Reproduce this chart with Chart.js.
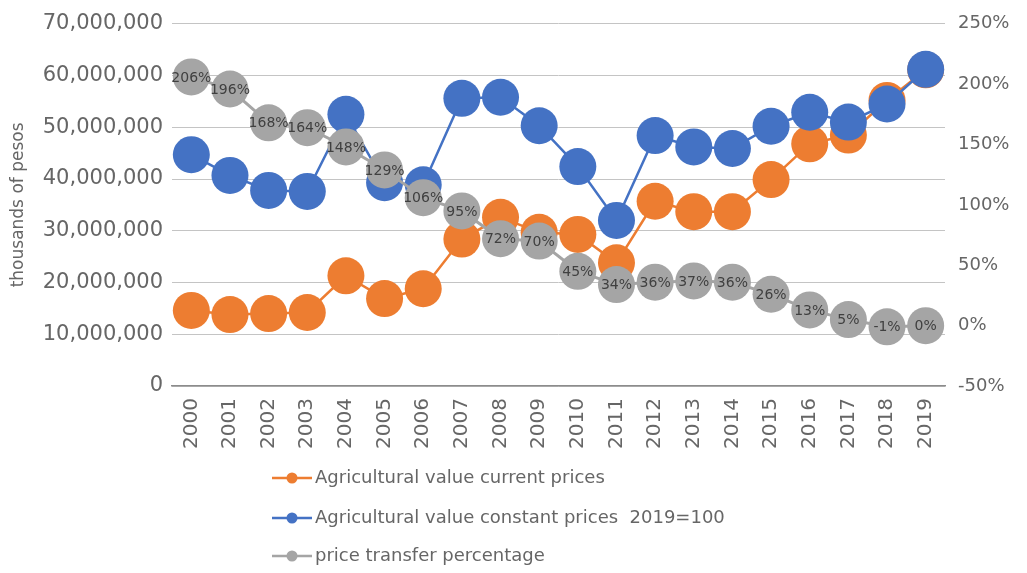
<!DOCTYPE html>
<html><head><meta charset="utf-8">
<script src="https://cdn.jsdelivr.net/npm/chart.js@4/dist/chart.umd.min.js"></script>
<style>html,body{margin:0;padding:0;background:#fff}#wrap{width:1027px;height:573px}</style>
</head><body><div id="wrap"><canvas id="c" width="1027" height="573"></canvas></div>
<script>
const years = ['2000','2001','2002','2003','2004','2005','2006','2007','2008','2009','2010','2011','2012','2013','2014','2015','2016','2017','2018','2019'];
const currentPrices = [14600000,13800000,14000000,14200000,21300000,16900000,18800000,28400000,32600000,29700000,29300000,23800000,35700000,33700000,33700000,39900000,46800000,48500000,55200000,61100000];
const constantPrices = [44700000,40700000,37800000,37600000,52500000,39300000,38900000,55600000,55800000,50300000,42400000,32000000,48400000,46200000,45900000,50200000,52900000,51000000,54500000,61200000];
const transferPct = [206,196,168,164,148,129,106,95,72,70,45,34,36,37,36,26,13,5,-1,0];
const seriesNames = ['Agricultural value current prices','Agricultural value constant prices  2019=100','price transfer percentage'];
const seriesColors = ['#ED7D31','#4472C4','#A5A5A5'];
const leftAxis = {min:0,max:70000000,step:10000000,title:'thousands of pesos'};
const rightAxis = {min:-50,max:250,step:50};

const FAM = '"DejaVu Sans"';
const TXT = '#666666';

const labelPlugin = {
  id:'pctLabels',
  afterDatasetsDraw(chart){
    const ctx = chart.ctx;
    const meta = chart.getDatasetMeta(2);
    ctx.save();
    ctx.font = '14px ' + FAM;
    ctx.fillStyle = '#404040';
    ctx.textAlign = 'center';
    ctx.textBaseline = 'middle';
    meta.data.forEach((pt,i)=>{
      ctx.fillText(transferPct[i] + '%', pt.x, pt.y + 1);
    });
    ctx.restore();
  }
};

const legendPlugin = {
  id:'colLegend',
  afterDraw(chart){
    const ctx = chart.ctx;
    const x0 = 272, rows = [478,518,556];
    ctx.save();
    chart.data.datasets.forEach((ds,i)=>{
      const y = rows[i];
      ctx.strokeStyle = ds.borderColor;
      ctx.lineWidth = 2.5;
      ctx.beginPath(); ctx.moveTo(x0,y); ctx.lineTo(x0+40,y); ctx.stroke();
      ctx.fillStyle = ds.backgroundColor;
      ctx.beginPath(); ctx.arc(x0+20,y,5.5,0,Math.PI*2); ctx.fill();
      ctx.font = '18px ' + FAM;
      ctx.fillStyle = TXT;
      ctx.textAlign = 'left';
      ctx.textBaseline = 'middle';
      ctx.fillText(ds.label, x0+43, y);
    });
    ctx.restore();
  }
};

new Chart(document.getElementById('c'), {
  type:'line',
  data:{
    labels: years,
    datasets:[
      {label:seriesNames[0], data:currentPrices, yAxisID:'y', borderColor:seriesColors[0], backgroundColor:seriesColors[0], borderWidth:2.5, pointRadius:18.5, pointBorderWidth:0, order:3},
      {label:seriesNames[1], data:constantPrices, yAxisID:'y', borderColor:seriesColors[1], backgroundColor:seriesColors[1], borderWidth:2.5, pointRadius:18.5, pointBorderWidth:0, order:2},
      {label:seriesNames[2], data:transferPct, yAxisID:'y1', borderColor:seriesColors[2], backgroundColor:seriesColors[2], borderWidth:3, pointRadius:18.5, pointBorderWidth:0, order:1}
    ]
  },
  options:{
    responsive:false,
    animation:false,
    devicePixelRatio:1,
    layout:{padding:{top:18,bottom:125,left:0,right:0}},
    plugins:{legend:{display:false},tooltip:{enabled:false}},
    scales:{
      x:{
        offset:true,
        grid:{display:false,drawTicks:false},
        border:{display:true,color:'#8c8c8c',width:1.5},
        ticks:{color:TXT,font:{family:FAM,size:20},maxRotation:90,minRotation:90,padding:12,autoSkip:false},
        afterFit(s){s.height=62;}
      },
      y:{
        position:'left',
        min:leftAxis.min,max:leftAxis.max,
        grid:{color:'#c4c4c4',lineWidth:1,drawTicks:false},
        border:{display:false},
        ticks:{stepSize:leftAxis.step,color:TXT,font:{family:FAM,size:21},padding:9,
          callback:v=>v.toLocaleString('en-US')},
        title:{display:true,text:leftAxis.title,color:TXT,font:{family:FAM,size:17},padding:{top:8,bottom:0}},
        afterFit(s){s.width=172;}
      },
      y1:{
        position:'right',
        min:rightAxis.min,max:rightAxis.max,
        grid:{display:false,drawTicks:false},
        border:{display:false},
        ticks:{stepSize:rightAxis.step,color:TXT,font:{family:FAM,size:18},padding:13,
          callback:v=>v+'%'},
        afterFit(s){s.width=82;}
      }
    }
  },
  plugins:[labelPlugin,legendPlugin]
});
</script></body></html>
